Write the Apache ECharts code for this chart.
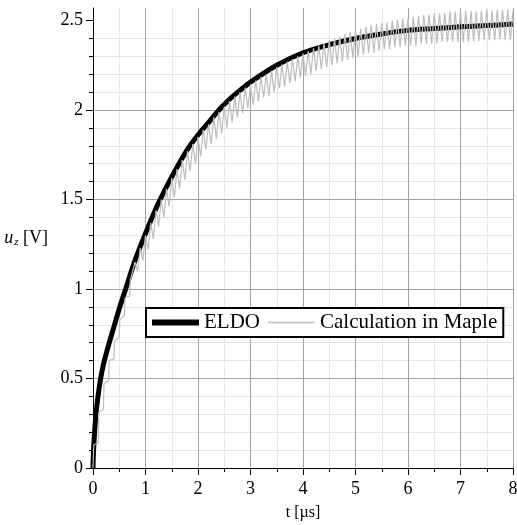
<!DOCTYPE html>
<html><head><meta charset="utf-8">
<script src="https://cdn.jsdelivr.net/npm/echarts@6/dist/echarts.min.js"></script>
<style>html,body{margin:0;padding:0;background:#fff}#c{width:517px;height:525px}</style>
</head><body><div id="c"></div>
<script>
// ---- data ----
const xTickLabels = ['0','1','2','3','4','5','6','7','8'];
const yTickLabels = ['0','0.5','1','1.5','2','2.5'];
const yMinorTicks = [0,0.1,0.2,0.3,0.4,0.5,0.6,0.7,0.8,0.9,1,1.1,1.2,1.3,1.4,1.5,1.6,1.7,1.8,1.9,2,2.1,2.2,2.3,2.4,2.5];
const yMajorTicks = [0,0.5,1,1.5,2,2.5];

const eldoTime = [0, 0.005, 0.02, 0.05, 0.09, 0.14, 0.2, 0.3, 0.4, 0.5, 0.6, 0.8, 1.0, 1.2, 1.4, 1.6, 1.8, 2.0, 2.2, 2.4, 2.6, 2.8, 3.0, 3.5, 4.0, 4.5, 5.0, 5.5, 6.0, 6.5, 7.0, 7.5, 8.0];
const eldoVolt = [0, 0.06, 0.15, 0.28, 0.39, 0.49, 0.58, 0.69, 0.79, 0.89, 0.98, 1.16, 1.31, 1.45, 1.57, 1.68, 1.78, 1.86, 1.93, 2.00, 2.06, 2.11, 2.156, 2.25, 2.32, 2.365, 2.40, 2.425, 2.445, 2.455, 2.465, 2.472, 2.48];

// Maple result: early staircase
const mapleStepTime = [0, 0.015, 0.1, 0.11, 0.2, 0.21, 0.3, 0.31, 0.4, 0.41, 0.5, 0.51, 0.6, 0.61, 0.7, 0.71];
const mapleStepVolt = [0, 0.13, 0.14, 0.31, 0.33, 0.47, 0.49, 0.60, 0.61, 0.71, 0.73, 0.83, 0.85, 0.95, 0.96, 1.05];
// then oscillation: peaks at t = 0.8, 0.9, ... 8.0 and dips half a period later
const mapleOscStart = 0.8;
const mapleOscPeriod = 0.1;
const mapleTops = [1.15,1.23,1.30,1.37,1.44,1.50,1.56,1.62,1.67,1.72,
  1.77,1.81,1.85,1.89,1.92,1.96,1.99,2.02,2.05,2.075,
  2.10,2.125,2.145,2.165,2.185,2.20,2.22,2.24,2.255,2.27,
  2.285,2.30,2.315,2.33,2.345,2.36,2.375,2.39,2.40,2.41,
  2.425,2.435,2.445,2.455,2.465,2.475,2.48,2.485,2.49,2.50,
  2.505,2.51,2.515,2.52,2.525,2.53,2.535,2.54,2.54,2.545,
  2.55,2.55,2.55,2.555,2.555,2.55,2.555,2.56,2.555,2.56,
  2.56,2.56,2.555];
const mapleDips = [1.10,1.16,1.22,1.28,1.35,1.40,1.46,1.51,1.56,1.61,
  1.66,1.70,1.74,1.78,1.81,1.84,1.87,1.90,1.93,1.96,
  1.98,2.01,2.03,2.05,2.07,2.08,2.10,2.12,2.13,2.15,
  2.16,2.18,2.19,2.20,2.22,2.23,2.24,2.25,2.26,2.27,
  2.28,2.29,2.30,2.31,2.32,2.32,2.33,2.34,2.34,2.35,
  2.35,2.36,2.36,2.36,2.37,2.37,2.37,2.37,2.38,2.38,
  2.38,2.38,2.38,2.38,2.385,2.385,2.39,2.39,2.39,2.395,
  2.39,2.39];

const legendNames = ['ELDO', 'Calculation in Maple'];
const axisNameX = 't [µs]';

// ---- build series data ----
const r = v => Math.round(v * 1000) / 1000;
const eldoData = eldoTime.map((t, i) => [t, eldoVolt[i]]);
const mapleData = mapleStepTime.map((t, i) => [t, mapleStepVolt[i]]);
for (let i = 0; i < mapleTops.length; i++) {
  const t = mapleOscStart + i * mapleOscPeriod;
  mapleData.push([r(t), mapleTops[i]]);
  if (i < mapleDips.length) mapleData.push([r(t + mapleOscPeriod / 2), mapleDips[i]]);
}

const SERIF = "'Liberation Serif', 'DejaVu Serif', serif";
const chart = echarts.init(document.getElementById('c'), null, {renderer: 'canvas'});
chart.setOption({
  animation: false,
  backgroundColor: '#fff',
  grid: {left: 93, right: 4, top: 8, bottom: 57, containLabel: false, outerBoundsMode: 'none'},
  xAxis: [
    { type: 'value', min: 0, max: 8, interval: 0.5, position: 'bottom', z: 0,
      axisLine: {show: false}, axisLabel: {show: false},
      axisTick: {show: true, length: 4, lineStyle: {color: '#000', width: 1}},
      splitLine: {show: true, lineStyle: {color: '#e6e6e6', width: 1}} },
    { type: 'value', min: 0, max: 8, interval: 1, position: 'bottom', z: 1,
      axisLine: {show: true, onZero: false, lineStyle: {color: '#000', width: 1}},
      axisTick: {show: true, length: 7, lineStyle: {color: '#000', width: 1}},
      axisLabel: {color: '#000', fontFamily: SERIF, fontSize: 18, margin: 12,
        formatter: v => xTickLabels[Math.round(v)] ?? ''},
      splitLine: {show: true, lineStyle: {color: '#a3a3a3', width: 1}},
      name: axisNameX, nameLocation: 'middle', nameGap: 37,
      nameTextStyle: {color: '#000', fontFamily: SERIF, fontSize: 16} }
  ],
  yAxis: [
    { type: 'value', min: 0, max: 2.57, interval: 0.1, position: 'left', z: 0,
      axisLine: {show: false}, axisLabel: {show: false},
      axisTick: {show: true, length: 4, customValues: yMinorTicks, lineStyle: {color: '#000', width: 1}},
      splitLine: {show: true, showMaxLine: false, lineStyle: {color: '#e6e6e6', width: 1}} },
    { type: 'value', min: 0, max: 2.57, interval: 0.5, position: 'left', z: 1,
      axisLine: {show: true, onZero: false, lineStyle: {color: '#000', width: 1}},
      axisTick: {show: true, length: 7, customValues: yMajorTicks, lineStyle: {color: '#000', width: 1}},
      axisLabel: {color: '#000', fontFamily: SERIF, fontSize: 18, margin: 10, showMaxLabel: false,
        formatter: v => { const k = Math.round(v * 2); return Math.abs(v * 2 - k) < 1e-6 ? (yTickLabels[k] ?? '') : ''; }},
      splitLine: {show: true, showMaxLine: false, lineStyle: {color: '#a3a3a3', width: 1}},
      name: '{u|u}{z|z}{v| [V]}', nameLocation: 'middle', nameRotate: 0, nameGap: 45,
      nameTextStyle: {color: '#000', fontFamily: SERIF, fontSize: 18,
        rich: {
          u: {fontFamily: SERIF, fontStyle: 'italic', fontSize: 18, color: '#000'},
          z: {fontFamily: SERIF, fontStyle: 'italic', fontSize: 11, color: '#000', padding: [9, 0, 0, 1]},
          v: {fontFamily: SERIF, fontSize: 18, color: '#000'}
        }} }
  ],
  legend: {
    left: 146, top: 308, orient: 'horizontal',
    padding: [4, 6, 4, 6], itemGap: 8, itemWidth: 47, itemHeight: 14,
    borderColor: '#000', borderWidth: 2, borderRadius: 0, backgroundColor: '#fff',
    textStyle: {fontFamily: SERIF, fontSize: 21, color: '#000', lineHeight: 20},
    itemStyle: {borderWidth: 0},
    data: [
      {name: legendNames[0], icon: 'path://M0,0H47V6H0Z', itemStyle: {color: '#000', borderWidth: 0}},
      {name: legendNames[1], icon: 'path://M0,0H47V1.3H0Z', itemStyle: {color: '#bdbdbd', borderWidth: 0}}
    ]
  },
  series: [
    { name: legendNames[0], type: 'line', xAxisIndex: 0, yAxisIndex: 0, data: eldoData,
      symbol: 'none', smooth: 0.3, color: '#000', itemStyle: {color: '#000'},
      lineStyle: {color: '#000', width: 5}, z: 3 },
    { name: legendNames[1], type: 'line', xAxisIndex: 0, yAxisIndex: 0, data: mapleData,
      symbol: 'none', color: '#bdbdbd', itemStyle: {color: '#bdbdbd'},
      lineStyle: {color: '#bdbdbd', width: 1.2}, z: 4 }
  ]
});
</script></body></html>
